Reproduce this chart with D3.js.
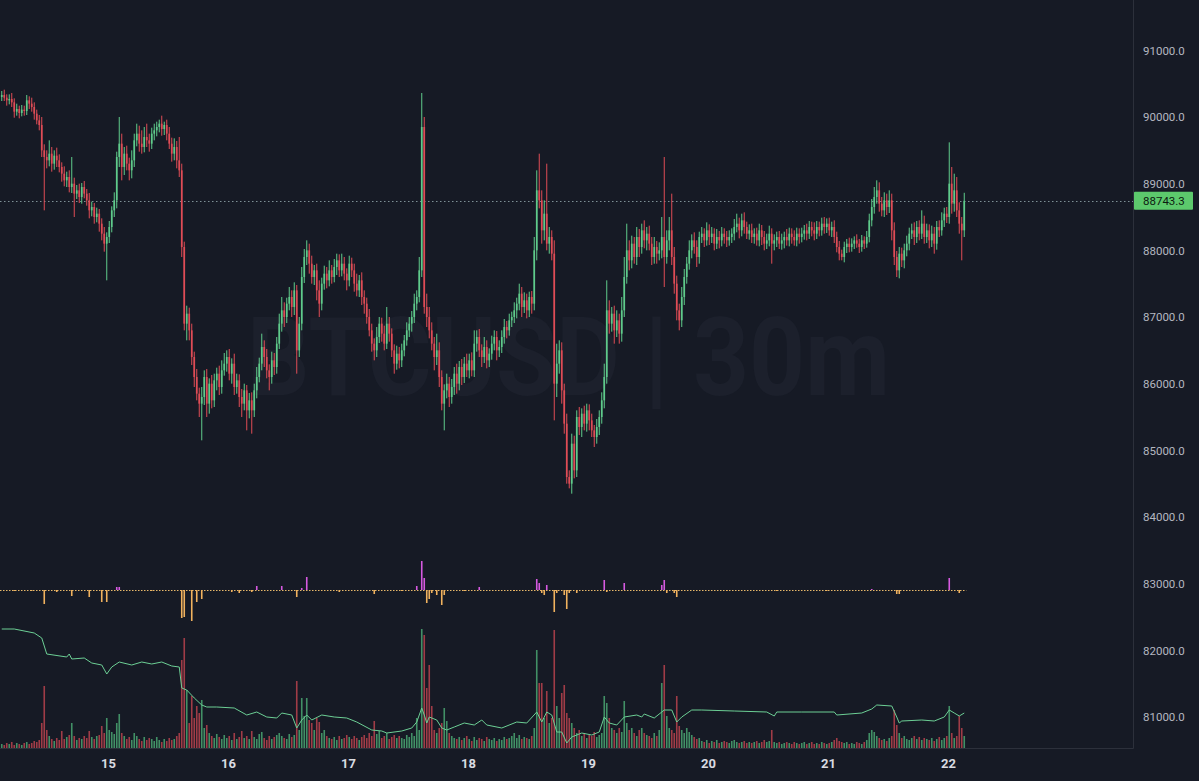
<!DOCTYPE html>
<html><head><meta charset="utf-8">
<script src="https://cdn.jsdelivr.net/npm/d3@7"></script>
<style>
html,body{margin:0;padding:0;background:#161a25;overflow:hidden}
svg{display:block}
</style></head>
<body><svg id="c" width="1199" height="781"></svg>
<script>
// ---------------- DATA ----------------
const symbolText = "BTCUSD | 30m";
const firstBarUTC = Date.UTC(2025, 3, 14, 2, 30);   // first visible 30m bar
const firstOpen = 90300;
const lastPrice = 88743.3;
const dayLabels = ["15","16","17","18","19","20","21","22"];
const priceTicks = [81000,82000,83000,84000,85000,86000,87000,88000,89000,90000,91000];

const closes = [
90330,90290,90250,90270,90220,90080,90120,90060,90110,90090,
90250,90200,90150,90050,89950,89880,89500,89400,89350,89450,
89300,89420,89350,89250,89150,89050,89100,88950,89000,88850,
88900,88800,88950,88850,88750,88600,88650,88500,88550,88400,
88250,88100,88200,88350,88600,88750,89400,89600,89250,89450,
89300,89200,89350,89650,89750,89600,89550,89700,89650,89600,
89750,89800,89850,89900,89820,89880,89750,89600,89450,89550,
89350,89200,88050,86900,87050,86800,86400,86100,85850,85700,
85800,86100,85700,86000,85750,86050,86150,85950,86200,86300,
86400,86150,86300,85950,86050,85800,85700,85900,85600,85750,
85600,85900,86100,86300,86550,86400,86200,86100,86350,86250,
86600,86900,87100,87000,87200,87300,87150,87400,86500,86900,
87600,87900,88000,87800,87600,87700,87400,87200,87500,87650,
87550,87700,87600,87750,87850,87700,87800,87650,87550,87800,
87700,87500,87400,87550,87300,87200,87000,86800,86600,86500,
86700,86900,86750,86600,86900,86750,86500,86300,86450,86350,
86500,86650,86800,86900,87000,87200,87300,87700,89850,87150,
87000,86800,86600,86400,86500,86100,85700,85900,86000,85800,
85950,86150,86000,86250,86100,86300,86200,86350,86200,86600,
86700,86500,86400,86550,86350,86450,86600,86700,86500,86550,
86700,86850,86800,86950,87000,87100,87200,87350,87150,87250,
87100,87300,87200,88000,88900,88750,88300,88550,88100,88200,
87950,86000,86300,86500,85900,85400,84600,84500,85100,84700,
85500,85350,85550,85400,85600,85450,85300,85200,85350,85500,
85750,86100,87100,86900,87050,86800,86950,86750,87100,87600,
88000,87850,88100,87900,88200,88050,88300,88150,88250,88100,
87900,88050,87950,88000,88200,87900,88150,88300,87900,87500,
87100,86950,87300,87600,87800,88000,88150,88050,87900,88200,
88250,88150,88300,88200,88250,88100,88200,88150,88250,88200,
88150,88200,88250,88350,88400,88300,88450,88350,88250,88300,
88200,88250,88150,88300,88200,88100,88150,88250,88100,88150,
88200,88100,88150,88200,88150,88250,88200,88150,88250,88200,
88250,88300,88250,88350,88300,88250,88350,88300,88400,88350,
88400,88300,88350,88200,88050,87950,87900,88050,88100,88050,
88100,88150,88100,88050,88150,88100,88200,88450,88650,88800,
88900,88700,88600,88750,88650,88750,88300,87900,87700,87950,
87850,88000,88100,88250,88300,88200,88350,88250,88400,88200,
88300,88150,88250,88100,88350,88300,88450,88550,88500,89000,
88700,88900,88600,88400,88300,88743.3];

const wickHi = [
60,80,50,70,90,60,80,50,70,60,
80,60,90,70,60,80,120,90,100,200,
100,80,120,90,70,110,80,100,400,90,
80,100,60,90,70,110,80,60,90,70,
80,100,70,90,60,120,80,400,150,100,
120,90,150,100,150,120,200,150,200,100,
90,100,80,60,120,50,80,100,90,130,
90,350,100,80,120,90,100,80,120,90,
150,100,120,80,130,100,90,120,150,160,
100,120,80,150,100,90,120,100,80,110,
120,100,150,90,200,100,120,90,130,110,
100,150,200,120,90,150,100,120,80,100,
150,120,150,100,120,80,100,150,90,120,
100,150,80,120,100,90,150,100,80,120,
90,100,150,80,120,100,90,120,100,80,
150,100,90,120,250,100,80,90,120,100,
100,80,120,100,90,150,100,200,510,150,
200,150,120,100,250,120,100,90,150,100,
120,100,150,90,120,100,150,100,120,200,
100,120,90,150,100,80,120,100,90,100,
100,120,90,100,80,120,90,150,100,120,
100,80,90,200,300,550,150,200,750,150,
100,200,300,150,120,100,150,100,150,120,
100,150,80,120,100,90,100,80,120,100,
120,200,450,150,100,120,150,100,200,300,
400,150,120,100,150,120,100,150,100,120,
100,150,90,120,300,1200,150,200,550,150,
120,100,150,120,100,150,90,120,100,80,
100,80,120,90,100,80,120,90,100,80,
90,100,80,120,150,90,100,120,80,90,
100,80,90,100,80,90,100,120,80,90,
80,90,100,80,120,90,80,100,90,80,
90,80,100,90,80,120,90,80,90,100,
80,90,80,100,80,90,60,80,70,90,
80,60,90,70,80,60,90,100,120,150,
150,120,100,120,100,150,100,120,90,100,
90,100,120,90,100,120,90,100,200,120,
100,90,120,100,90,100,120,90,100,620,
250,250,200,120,100,120];

const wickLo = [
60,50,80,60,70,90,60,80,50,70,
60,80,70,90,60,80,100,800,120,90,
120,90,100,80,120,90,100,80,90,350,
80,90,100,70,80,120,90,100,80,120,
100,120,550,90,80,100,120,150,200,120,
100,150,120,100,90,120,100,80,100,120,
80,100,90,80,100,90,100,80,120,100,
120,100,150,100,250,150,120,150,100,200,
550,120,200,150,120,100,150,120,100,80,
120,100,150,120,100,150,200,100,300,120,
350,100,120,80,100,150,120,200,100,120,
100,80,120,150,90,100,150,120,350,100,
100,90,120,150,100,120,150,200,100,90,
120,90,100,80,120,100,90,100,150,90,
100,120,90,100,120,150,100,90,120,150,
100,90,120,100,80,120,100,150,90,120,
100,90,80,100,120,90,100,80,100,100,
150,120,100,200,120,150,100,400,120,150,
100,120,150,100,120,90,100,120,90,100,
120,100,150,90,120,100,90,100,150,100,
90,100,120,80,100,90,120,100,150,90,
120,100,150,100,150,120,200,150,100,150,
100,550,200,150,200,150,100,70,150,120,
100,120,150,100,120,150,100,150,100,120,
100,120,100,150,120,200,100,150,120,100,
100,150,120,100,120,150,100,120,150,100,
120,100,150,100,120,450,100,150,120,150,
150,150,100,120,100,90,120,100,150,100,
90,100,80,120,90,100,80,120,90,100,
100,80,90,100,80,120,90,100,80,90,
90,100,80,90,120,100,80,90,300,100,
100,80,90,120,80,90,100,80,90,100,
80,90,100,80,90,100,80,90,80,100,
90,80,100,90,80,100,50,80,90,80,
70,80,60,90,70,80,60,80,90,100,
100,120,90,100,120,90,150,120,100,120,
100,120,90,100,80,120,90,100,80,100,
90,120,100,150,90,100,80,100,90,100,
150,120,100,150,450,100];

const volume = [
40,30,50,40,60,30,50,40,30,50,
60,40,50,70,60,80,250,620,180,120,
90,70,100,80,170,90,110,130,250,120,
80,100,90,120,100,170,110,90,120,130,
220,150,300,180,160,140,250,340,150,120,
90,110,80,150,120,90,70,110,80,100,
90,70,110,80,60,90,70,100,80,90,
120,150,880,1100,580,250,520,300,420,350,
480,200,230,150,120,100,140,110,90,130,
100,120,80,150,90,110,170,100,120,90,
170,110,90,140,160,100,80,120,90,110,
130,150,120,100,90,140,110,130,670,180,
500,320,500,280,250,180,300,260,150,180,
120,100,90,110,80,120,90,100,130,110,
90,120,100,80,110,130,100,150,120,270,
140,170,100,120,150,90,110,130,100,120,
100,90,130,110,150,120,300,180,1190,1130,
600,830,420,180,150,200,250,400,270,150,
120,100,90,110,80,100,120,90,70,110,
80,100,90,70,110,90,80,100,70,90,
80,110,90,100,120,150,100,130,90,110,
100,90,120,200,980,650,650,300,570,250,
300,1180,420,300,550,630,350,300,250,200,
150,180,120,150,100,130,120,160,110,130,
150,520,450,300,200,180,150,200,160,470,
250,180,200,150,120,180,200,150,130,120,
100,150,120,180,650,830,320,200,180,150,
520,220,180,150,200,160,130,110,90,100,
70,60,80,50,70,60,80,50,60,70,
60,50,70,80,60,50,60,70,50,60,
50,60,70,50,60,80,60,70,180,60,
50,60,40,50,60,50,40,60,50,40,
50,60,40,50,60,40,50,40,60,50,
40,50,60,80,100,70,60,50,60,40,
50,40,60,50,40,60,80,150,180,160,
120,100,80,90,70,100,120,380,230,150,
100,120,90,80,100,120,90,110,80,100,
90,80,100,70,90,110,80,100,120,420,
150,100,120,320,200,120];

// delta histogram (bar index, value); all other bars ~0
const deltaIdx = [5,12,17,22,28,35,40,42,46,47,60,72,73,76,78,80,92,95,100,102,112,118,120,122,135,149,160,166,168,169,170,171,172,174,176,177,185,191,205,214,215,216,217,218,221,222,225,226,227,230,241,242,249,264,265,266,269,270,290,310,330,348,358,359,372,379,383];
const deltaVal = [-10,-10,-140,-20,-60,-70,-120,-120,30,30,-10,-280,-270,-310,-120,-90,-20,-30,-20,40,40,-70,20,130,-20,-40,-10,40,290,120,-130,-90,-30,-50,-150,-50,-10,30,-10,110,70,-30,-50,50,-220,-30,-50,-190,-30,-30,100,-20,70,50,100,-30,-30,-70,-10,-10,-10,10,-40,-40,-10,120,-30];

// green indicator line (bar index, value)
const lineIdx = [0,5,13,16,18,26,27,28,33,36,40,42,44,47,52,56,60,64,68,71,72,74,77,80,82,86,93,98,102,106,110,112,116,118,120,122,124,128,133,138,142,148,152,154,160,164,166,168,169,170,171,174,176,178,181,185,189,192,194,200,206,210,214,216,218,220,222,224,226,228,232,236,239,241,243,246,249,254,256,257,261,265,268,270,272,276,280,293,306,309,310,320,333,334,344,348,350,356,358,359,360,368,373,377,379,381,383,385];
const lineVal = [119,119,115,110,94,91,94,89,90,85,83,74,81,86,83,86,84,86,82,81,60,58,50,43,41,41,40,33,36,31,30,35,33,20,28,33,28,33,31,30,26,18,17,15,17,20,26,40,33,25,31,28,20,18,21,25,23,28,23,20,26,25,36,26,36,33,16,16,5,11,15,13,16,31,25,23,31,33,31,34,30,38,38,26,31,38,38,37,36,32,36,36,36,33,35,39,43,42,31,25,27,28,27,31,38,35,32,35];

// ---------------- CHART ----------------
const W = 1199, H = 781, plotR = 1133, plotB = 748;
const svg = d3.select("#c");
svg.append("rect").attr("width", W).attr("height", H).attr("fill", "#161a25");

const HALF = 30 * 60 * 1000;
const bars = closes.map((c, i) => {
  const o = i === 0 ? firstOpen : closes[i - 1];
  return { t: new Date(firstBarUTC + i * HALF), o, c,
    h: Math.max(o, c) + wickHi[i], l: Math.min(o, c) - wickLo[i], v: volume[i] };
});

const x = d3.scaleUtc().domain([new Date(Date.UTC(2025,3,14)), new Date(Date.UTC(2025,3,22))]).range([-12, 948]);
const y = d3.scaleLinear().domain([80535, 91755]).range([plotB, 0]);
const yVol = d3.scaleLinear().domain([0, 1000]).range([plotB, plotB - 100]);
const yDelta = d3.scaleLinear().domain([-1000, 1000]).range([690, 490]);
const yLine = d3.scaleLinear().domain([0, 100]).range([plotB, plotB - 100]);
const cx = d => x(new Date(d.t.getTime() + HALF / 2));

const clip = svg.append("defs").append("clipPath").attr("id", "pc")
  .append("rect").attr("x", 0).attr("y", 0).attr("width", plotR).attr("height", plotB);

// watermark
svg.append("text").attr("x", 247).attr("y", 395)
  .attr("font-family", "Roboto, sans-serif").attr("font-weight", 700).attr("font-size", 110)
  .attr("textLength", 643).attr("lengthAdjust", "spacingAndGlyphs")
  .attr("fill", "#1c202c").text(symbolText);

const g = svg.append("g").attr("clip-path", "url(#pc)");
const UP = "#5fcb8b", DN = "#e04c56";

// volume
g.append("g").selectAll("rect").data(bars).join("rect")
  .attr("x", d => cx(d) - 0.8).attr("width", 1.6)
  .attr("y", d => yVol(d.v)).attr("height", d => plotB - yVol(d.v))
  .attr("fill", d => d.c >= d.o ? "#4aa672" : "#b8434d").attr("opacity", 0.85);

// green indicator line
g.append("path").datum(lineIdx.map((k, j) => [k, lineVal[j]]))
  .attr("fill", "none").attr("stroke", "#6ccf95").attr("stroke-width", 1)
  .attr("d", d3.line().x(p => cx(bars[p[0]])).y(p => yLine(p[1])));

// delta zero line + bars
g.append("line").attr("x1", 0).attr("x2", cx(bars[bars.length - 1]) + 2)
  .attr("y1", yDelta(0) + 0.5).attr("y2", yDelta(0) + 0.5)
  .attr("stroke", "#e8b86a").attr("stroke-dasharray", "1.5,1.5").attr("stroke-width", 1);
g.append("g").selectAll("rect").data(deltaIdx.map((k, j) => ({ k, v: deltaVal[j] }))).join("rect")
  .attr("x", d => cx(bars[d.k]) - 0.8).attr("width", 1.6)
  .attr("y", d => Math.min(yDelta(0), yDelta(d.v)))
  .attr("height", d => Math.abs(yDelta(d.v) - yDelta(0)))
  .attr("fill", d => d.v > 0 ? "#d65ae0" : "#f0b25e");

// last price dotted line
g.append("line").attr("x1", 0).attr("x2", plotR).attr("y1", Math.round(y(lastPrice)) + 0.5).attr("y2", Math.round(y(lastPrice)) + 0.5)
  .attr("stroke", "#7e9096").attr("stroke-dasharray", "1.5,2.5").attr("stroke-width", 1);

// candles
const cg = g.append("g");
cg.selectAll("rect.w").data(bars).join("rect").attr("class", "w")
  .attr("x", d => cx(d) - 0.5).attr("width", 1)
  .attr("y", d => y(d.h)).attr("height", d => y(d.l) - y(d.h))
  .attr("fill", d => d.c >= d.o ? UP : DN);
cg.selectAll("rect.b").data(bars).join("rect").attr("class", "b")
  .attr("x", d => cx(d) - 0.85).attr("width", 1.7)
  .attr("y", d => y(Math.max(d.o, d.c)))
  .attr("height", d => Math.max(1, Math.abs(y(d.o) - y(d.c))))
  .attr("fill", d => d.c >= d.o ? UP : DN);

// frame
svg.append("line").attr("x1", plotR + 0.5).attr("x2", plotR + 0.5).attr("y1", 0).attr("y2", plotB + 0.5).attr("stroke", "#2c303b");
svg.append("line").attr("x1", 0).attr("x2", plotR + 0.5).attr("y1", plotB + 0.5).attr("y2", plotB + 0.5).attr("stroke", "#2c303b");

// price axis
const ya = svg.append("g").attr("transform", `translate(${plotR},0)`)
  .call(d3.axisRight(y).tickValues(priceTicks).tickFormat(d3.format(".1f")).tickSize(0).tickPadding(10));
ya.select(".domain").remove();
ya.selectAll("text").attr("fill", "#b4b7c0").attr("font-family", "Roboto, sans-serif").attr("font-size", 11.5);

// time axis
const dayDates = dayLabels.map(s => new Date(Date.UTC(2025, 3, +s)));
const xa = svg.append("g").attr("transform", `translate(0,${plotB})`)
  .call(d3.axisBottom(x).tickValues(dayDates).tickFormat((d, i) => dayLabels[i]).tickSize(0).tickPadding(11));
xa.select(".domain").remove();
xa.selectAll("text").attr("fill", "#d9dbe1").attr("font-family", "Roboto, sans-serif")
  .attr("font-weight", 700).attr("font-size", 13);

// last price label
const ly = y(lastPrice);
svg.append("rect").attr("x", plotR + 1).attr("y", ly - 9).attr("width", 59).attr("height", 18).attr("rx", 1).attr("fill", "#5cc96c");
svg.append("text").attr("x", plotR + 10).attr("y", ly + 4.5).attr("fill", "#0c1a10")
  .attr("font-family", "Roboto, sans-serif").attr("font-size", 11.5).text(d3.format(".1f")(lastPrice));
</script></body></html>
